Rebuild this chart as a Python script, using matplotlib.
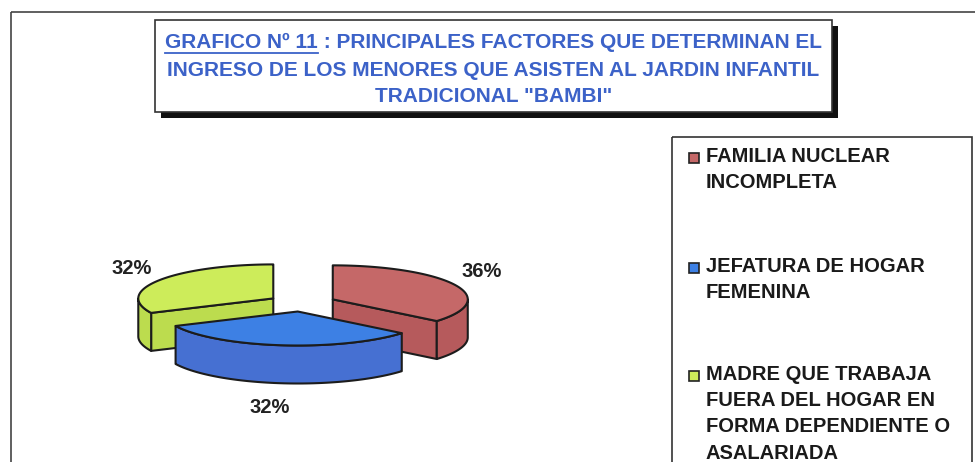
import numpy as np
import matplotlib.pyplot as plt
from matplotlib.patches import Polygon, Rectangle

# Data
labels = ["FAMILIA NUCLEAR\nINCOMPLETA",
          "JEFATURA DE HOGAR\nFEMENINA",
          "MADRE QUE TRABAJA\nFUERA DEL HOGAR EN\nFORMA DEPENDIENTE O\nASALARIADA"]
values = [36, 32, 32]
top_colors = ["#c56868", "#3d80e4", "#cdec5a"]
side_colors = ["#b65a5c", "#4670d2", "#bcdc4e"]
title_lines = ["GRAFICO Nº 11", " : PRINCIPALES FACTORES QUE DETERMINAN EL",
               "INGRESO DE LOS MENORES QUE ASISTEN AL JARDIN INFANTIL",
               "TRADICIONAL \"BAMBI\""]

W, H = 975, 462
fig = plt.figure(figsize=(W / 100, H / 100), dpi=100)
ax = fig.add_axes([0, 0, 1, 1])
ax.set_xlim(0, W)
ax.set_ylim(H, 0)
ax.axis('off')

FONT = ['Liberation Sans', 'DejaVu Sans']
TITLE_C = '#3c62c8'

# outer frame
ax.add_patch(Rectangle((11, 12), 990, 480, fill=False, ec='#444444', lw=1.2))

# title box with shadow
ax.add_patch(Rectangle((161, 26), 677, 92, fc='#111111', ec='none'))
ax.add_patch(Rectangle((155, 20), 677, 92, fc='white', ec='#333333', lw=1.2))

r = fig.canvas.get_renderer()
fs_title = 15
tmp = ax.text(0, 0, title_lines[0] + title_lines[1], fontsize=fs_title, family=FONT, weight='bold')
full_w = tmp.get_window_extent(r).width
tmp.remove()
x0 = 493.5 - full_w / 2
t1 = ax.text(x0, 43, title_lines[0], fontsize=fs_title, family=FONT, weight='bold',
             color=TITLE_C, ha='left', va='center')
w1 = t1.get_window_extent(r).width
ax.text(x0 + w1, 43, title_lines[1], fontsize=fs_title, family=FONT, weight='bold',
        color=TITLE_C, ha='left', va='center')
ax.plot([x0, x0 + w1], [53, 53], color=TITLE_C, lw=1.3)
ax.text(493.5, 70, title_lines[2], fontsize=fs_title, family=FONT, weight='bold',
        color=TITLE_C, ha='center', va='center')
ax.text(493.5, 96, title_lines[3], fontsize=fs_title, family=FONT, weight='bold',
        color=TITLE_C, ha='center', va='center')

# 3D exploded pie
cx, cy = 302, 303
a, b = 135, 34
depth = 38
explode = 34
total = float(sum(values))
edge = '#1c1c1c'


def pt(ox, oy, th, rad=1.0, z=0):
    t = np.radians(th)
    return ox + rad * a * np.cos(t), oy - rad * b * np.sin(t) + z


slices = []
start = 90.0
for i, v in enumerate(values):
    span = v / total * 360
    th1, th2 = start - span, start
    start = th1
    mid = (th1 + th2) / 2
    m = np.radians(mid)
    ox = cx + explode * np.cos(m)
    oy = cy - explode * b / a * np.sin(m)
    slices.append((i, th1, th2, mid, ox, oy))

# back slices first
for i, th1, th2, mid, ox, oy in sorted(slices, key=lambda s: -np.sin(np.radians(s[3]))):
    # radial walls facing the viewer
    for th, vis in ((th1, np.cos(np.radians(th1)) > 1e-6), (th2, np.cos(np.radians(th2)) < -1e-6)):
        if vis:
            ex, ey = pt(ox, oy, th)
            poly = [(ox, oy), (ex, ey), (ex, ey + depth), (ox, oy + depth)]
            ax.add_patch(Polygon(poly, closed=True, fc=side_colors[i], ec=edge, lw=1.5, joinstyle='round'))
    # outer side on the front half
    ths = np.linspace(th1, th2, 300)
    front = np.sin(np.radians(ths)) <= 0
    if front.any():
        tf = ths[front]
        topa = [pt(ox, oy, t) for t in tf]
        bota = [pt(ox, oy, t, z=depth) for t in tf[::-1]]
        ax.add_patch(Polygon(topa + bota, closed=True, fc=side_colors[i], ec=edge, lw=1.5, joinstyle='round'))
    # top face
    arc = [pt(ox, oy, t) for t in ths]
    ax.add_patch(Polygon([(ox, oy)] + arc, closed=True, fc=top_colors[i], ec=edge, lw=1.5, joinstyle='round'))

    # percentage label
    c, s = np.cos(np.radians(mid)), np.sin(np.radians(mid))
    px, py = pt(ox, oy, mid, z=depth if s < 0 else 0)
    pct = f"{values[i] / total:.0%}"
    if s < -0.8:
        ax.text(px - 11, py + 24, pct, fontsize=14.5, family=FONT,
                weight='bold', color='#222222', ha='center', va='center')
    elif c > 0:
        ax.text(px + 7, py - 13, pct, fontsize=14.5, family=FONT,
                weight='bold', color='#222222', ha='left', va='center')
    else:
        ax.text(px - 7, py - 12, pct, fontsize=14.5, family=FONT,
                weight='bold', color='#222222', ha='right', va='center')

# legend box
ax.add_patch(Rectangle((672, 137), 300, 400, fill=False, ec='#333333', lw=1.2))
leg_y = [158, 268, 376]
for i, lab in enumerate(labels):
    ax.add_patch(Rectangle((689, leg_y[i] - 5), 10, 10, fc=top_colors[i], ec='#222222', lw=1.2))
    ax.text(706, leg_y[i] - 11, lab, fontsize=14.5, family=FONT, weight='bold', color='#1a1a1a',
            ha='left', va='top', linespacing=1.48)

fig.savefig('out.png', dpi=100)
